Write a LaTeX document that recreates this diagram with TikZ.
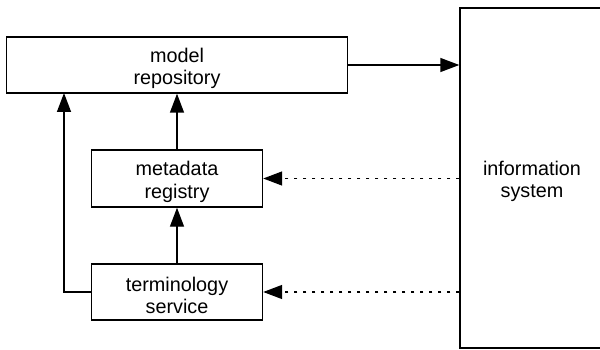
\documentclass[tikz,border=0pt]{standalone}
\usepackage{fontspec}
\setmainfont{Liberation Sans}
\usetikzlibrary{arrows.meta}
\begin{document}
\begin{tikzpicture}[x=1pt,y=-1pt,
  box/.style={draw,line width=1.4pt,rectangle,inner sep=0pt},
  txt/.style={inner sep=0pt,align=center,font=\fontsize{19.8}{22.5}\selectfont},
  conn/.style={line width=1.4pt,-{Triangle[length=19pt,width=14pt]}},
  dotconn/.style={conn,dash pattern=on 3pt off 6pt}]
\useasboundingbox (0,0) rectangle (600,350);
\node[box,minimum width=341pt,minimum height=56pt] (model) at (177,65) {};
\node[box,minimum width=171pt,minimum height=57pt] (meta) at (177,178.5) {};
\node[box,minimum width=171pt,minimum height=56pt] (term) at (177,292) {};
\node[box,minimum width=144pt,minimum height=340pt] (info) at (532,178) {};
\node[txt] (modelT) at ([yshift=-3.5pt]model.center) {model\\repository};
\node[txt] (metaT) at ([yshift=-3.5pt]meta.center) {metadata\\registry};
\node[txt] (termT) at ([yshift=-3.5pt]term.center) {terminology\\service};
\node[txt] (infoT) at ([yshift=-3.5pt]info.center) {information\\system};
\coordinate (lx) at (64,93);
\draw[conn] (model.east) -- (model.east -| info.west);
\draw[conn] (meta.north) -- (model.south -| meta.north);
\draw[conn] (term.north) -- (meta.south);
\draw[conn] (term.west) -| (lx);
\draw[dotconn] (meta.east -| info.west) -- (meta.east);
\draw[dotconn] (term.east -| info.west) -- (term.east);
\end{tikzpicture}
\end{document}
